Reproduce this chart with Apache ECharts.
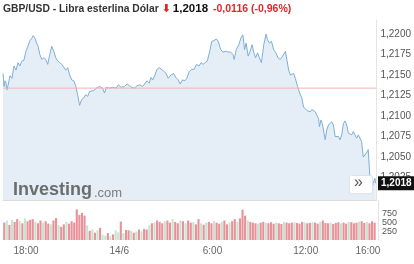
<!DOCTYPE html>
<html><head><meta charset="utf-8">
<script src="https://cdn.jsdelivr.net/npm/echarts@6/dist/echarts.min.js"></script>
<style>html,body{margin:0;padding:0;background:#fff}#c{width:414px;height:264px}</style>
</head><body><div id="c"></div>
<script>
// Time in hours counted from 13/6 00:00 (24 = 14/6 00:00)
const priceHours = [16.52,16.59,16.65,16.71,16.78,16.91,16.97,17.10,17.23,17.36,
17.49,17.61,17.74,17.87,18.00,18.13,18.26,18.39,18.47,18.58,
18.69,18.79,18.90,19.03,19.16,19.29,19.41,19.54,19.67,19.80,
19.93,20.06,20.19,20.32,20.44,20.57,20.70,20.83,20.96,21.09,
21.22,21.34,21.47,21.60,21.73,21.86,21.99,22.12,22.24,22.37,
22.55,22.65,22.76,22.95,23.08,23.19,23.40,23.61,23.83,23.98,
24.15,24.37,24.54,24.69,24.84,25.01,25.18,25.35,25.54,25.65,
25.83,25.97,26.08,26.19,26.34,26.47,26.62,26.73,26.89,27.05,
27.20,27.37,27.54,27.69,27.84,27.97,28.12,28.27,28.40,28.55,
28.72,28.87,29.02,29.19,29.32,29.45,29.58,29.72,29.88,30.01,
30.15,30.30,30.43,30.59,30.73,30.91,31.07,31.23,31.38,31.46,
31.59,31.76,31.89,32.02,32.13,32.23,32.36,32.49,32.62,32.73,
32.84,32.97,33.09,33.22,33.37,33.52,33.61,33.74,33.87,34.01,
34.16,34.29,34.44,34.59,34.77,34.87,34.98,35.09,35.30,35.41,
35.56,35.69,35.77,35.83,35.94,36.05,36.15,36.26,36.37,36.48,
36.59,36.70,36.80,36.91,36.97,37.06,37.15,37.23,37.34,37.44,
37.55,37.66,37.76,37.87,37.98,38.08,38.19,38.30,38.41,38.52,
38.62,38.73,38.84,38.95,39.05,39.16,39.27,39.37,39.48,39.59,
39.69,39.80,39.91,40.01,40.12,40.19,40.27,40.33,40.44,40.55,
40.60];
const priceValues = [1.2152,1.2136,1.2143,1.2140,1.2132,1.2143,1.2149,1.2146,1.2161,1.2156,
1.2165,1.2161,1.2167,1.2168,1.2179,1.2185,1.2192,1.2195,1.2198,1.2195,
1.2189,1.2185,1.2175,1.2169,1.2171,1.2169,1.2163,1.2175,1.2185,1.2179,
1.2171,1.2167,1.2165,1.2163,1.2161,1.2156,1.2159,1.2150,1.2144,1.2143,
1.2137,1.2126,1.2113,1.2120,1.2122,1.2126,1.2124,1.2130,1.2132,1.2131,
1.2134,1.2134,1.2136,1.2134,1.2128,1.2135,1.2134,1.2135,1.2134,1.2138,
1.2135,1.2136,1.2139,1.2137,1.2135,1.2134,1.2137,1.2138,1.2136,1.2138,
1.2143,1.2140,1.2147,1.2144,1.2150,1.2157,1.2159,1.2157,1.2155,1.2152,
1.2146,1.2150,1.2152,1.2147,1.2144,1.2139,1.2144,1.2143,1.2146,1.2154,
1.2157,1.2157,1.2163,1.2161,1.2165,1.2163,1.2165,1.2167,1.2179,1.2191,
1.2192,1.2194,1.2191,1.2181,1.2178,1.2179,1.2178,1.2178,1.2175,1.2169,
1.2181,1.2187,1.2195,1.2199,1.2181,1.2189,1.2173,1.2179,1.2187,1.2177,
1.2171,1.2177,1.2171,1.2165,1.2187,1.2200,1.2193,1.2189,1.2191,1.2181,
1.2177,1.2171,1.2169,1.2173,1.2179,1.2168,1.2156,1.2150,1.2152,1.2146,
1.2136,1.2128,1.2130,1.2122,1.2111,1.2109,1.2107,1.2109,1.2105,1.2108,
1.2107,1.2105,1.2101,1.2097,1.2087,1.2095,1.2091,1.2089,1.2071,1.2083,
1.2089,1.2091,1.2093,1.2089,1.2075,1.2073,1.2075,1.2071,1.2077,1.2091,
1.2094,1.2089,1.2079,1.2081,1.2077,1.2081,1.2079,1.2073,1.2077,1.2075,
1.2069,1.2050,1.2052,1.2055,1.2059,1.2038,1.2014,1.2008,1.2018,1.2024,
1.2018];
const prevClose = 1.2134;
const lastPrice = 1.2018;
const changeText = '-0,0116 (-0,96%)';
const volStart = 16.6;     // first 10-minute volume bar (hours)
const volStepMinutes = 10;
const volumes = [500,560,430,580,520,600,550,480,620,540,
580,600,520,480,560,500,540,470,450,560,
630,430,380,450,520,470,540,500,
880,720,780,700,
420,260,300,210,280,
350,150,120,200,110,160,280,220,
530,200,290,280,260,210,240,300,
250,320,300,420,480,500,560,
520,480,540,560,500,600,520,480,560,540,
480,560,500,520,450,600,480,440,500,520,
480,540,500,470,520,560,450,500,540,600,
520,620,870,700,560,520,
500,480,470,500,520,490,480,510,470,500,480,460,520,500,
480,500,510,490,470,520,500,480,490,510,
500,470,520,560,490,480,500,460,490,510,
480,500,470,520,510,480,500,530,540,490,520,480,540,500];
const volDir = "rgrgrrgrgr" + "rrgrrgrrgr" + "rgrrgrrr" + "rrrr" + "grgrg" + "rggrgrgg" +
  "rgrrgrgr" + "grrgrgr" + "rrgrrgrrgr" + "grrgrrgrgr" + "rgrrgrrgrr" + "grrrgr" +
  "rrgrrgrrrgrrgr" + "rrgrrrgrrg" + "rrgrrrgrrr" + "grrgrrrgrrgrrr";
const priceTicks = [1.2025,1.2050,1.2075,1.2100,1.2125,1.2150,1.2175,1.2200];
const volTicks = [250,500,750];
const timeTicks = [18,24,30,36,40];
const timeLabels = ['18:00','14/6','6:00','12:00','16:00'];

const X_MIN = 16.52, X_MAX = 40.65;
const VOL_MAX = 1150;
const RED = '#e99099', GREEN = '#c3e6d3';

const lineData = priceHours.map((h,i)=>[h, priceValues[i]]);
const prevData = [[X_MIN, prevClose],[X_MAX, prevClose]];
const volData = volumes.map((v,i)=>({
  value:[volStart + i*volStepMinutes/60, v],
  itemStyle:{color: volDir[i]==='g' ? GREEN : RED}
}));

const fmtPrice = v => v.toFixed(4).replace('.', ',');
const chart = echarts.init(document.getElementById('c'), null, {renderer:'canvas'});
const font = 'Liberation Sans, Arial, sans-serif';

// one right-hand volume axis per tick label, so the closely spaced labels all show
const volAxes = volTicks.map((t,k)=>({
  type:'value', gridIndex:1, position:'right', offset:0, min:0, max:VOL_MAX,
  axisLine:{show:k===0, lineStyle:{color:'#e4e4e4'}}, axisTick:{show:false},
  splitLine:{show:false},
  axisLabel:{color:'#555', fontSize:9, margin:4, fontFamily:font, customValues:[t]}
}));

chart.setOption({
  animation:false,
  backgroundColor:'#fff',
  textStyle:{fontFamily:font},
  title:{
    left:3, top:3, padding:0,
    text:'{n|GBP/USD - Libra esterlina Dólar}{a|⬇}{p|' + fmtPrice(lastPrice) + '}{c|' + changeText + '}',
    textStyle:{
      rich:{
        n:{fontSize:10.3, color:'#333', fontFamily:font},
        a:{fontSize:11, color:'#e0262b', fontFamily:'DejaVu Sans', fontWeight:'bold', padding:[0,2,0,3]},
        p:{fontSize:11.5, color:'#111', fontWeight:'bold', fontFamily:font, padding:[0,5,0,0]},
        c:{fontSize:10.5, color:'#e0262b', fontWeight:'bold', fontFamily:font}
      }
    }
  },
  grid:[
    {left:3, right:36, top:20, height:180},
    {left:3, right:36, top:200, height:40}
  ],
  xAxis:[
    {type:'value', gridIndex:0, min:X_MIN, max:X_MAX,
     axisLine:{show:true, lineStyle:{color:'#dcdcdc'}}, axisTick:{show:false},
     axisLabel:{show:false}, splitLine:{show:false}},
    {type:'value', gridIndex:1, min:X_MIN, max:X_MAX,
     axisLine:{show:false}, axisTick:{show:false}, splitLine:{show:false},
     axisLabel:{color:'#666', fontSize:10, margin:6, fontFamily:font,
       customValues:timeTicks,
       formatter:v=>{const k=timeTicks.indexOf(v); return k>=0?timeLabels[k]:'';}}}
  ],
  yAxis:[
    {type:'value', gridIndex:0, position:'right', min:1.199756, max:1.22171,
     axisLine:{show:true, lineStyle:{color:'#e4e4e4'}}, axisTick:{show:false},
     splitLine:{show:false},
     axisLabel:{color:'#555', fontSize:10, margin:4, fontFamily:font,
       customValues:priceTicks, formatter:v=>fmtPrice(v)}}
  ].concat(volAxes),
  series:[
    {type:'line', xAxisIndex:0, yAxisIndex:0, data:lineData, symbol:'none', z:2,
     lineStyle:{color:'#7eafd6', width:1},
     areaStyle:{color:'#e5eef6', opacity:1, origin:'start'}},
    {type:'line', xAxisIndex:0, yAxisIndex:0, data:prevData, symbol:'none', z:3,
     silent:true, lineStyle:{color:'#f2b3b3', width:1}},
    {type:'bar', xAxisIndex:1, yAxisIndex:1, data:volData, barWidth:2.1}
  ]
});

// overlays: watermark, scroll button and last-price tag
const py = chart.convertToPixel({gridIndex:0}, [X_MAX, lastPrice])[1];
chart.setOption({
  graphic:[
    {type:'text', left:13, top:181, z:10,
     style:{text:'Investing', font:'bold 18px '+font, fill:'#5e5e5e', opacity:0.9}},
    {type:'text', left:94, top:187, z:10,
     style:{text:'.com', font:'13px '+font, fill:'#707070', opacity:0.9}},
    {type:'rect', left:349, top:175, z:10,
     shape:{width:23, height:18, r:2},
     style:{fill:'#fff', stroke:'#e2e2e2', lineWidth:1}},
    {type:'text', left:354, top:175, z:11,
     style:{text:'»', font:'16px '+font, fill:'#555'}},
    {type:'rect', left:378, top:py-7, z:10,
     shape:{width:36, height:14}, style:{fill:'#111'}},
    {type:'text', left:381, top:py-5, z:11,
     style:{text:fmtPrice(lastPrice), font:'bold 10px '+font, fill:'#fff'}}
  ]
});
</script></body></html>
